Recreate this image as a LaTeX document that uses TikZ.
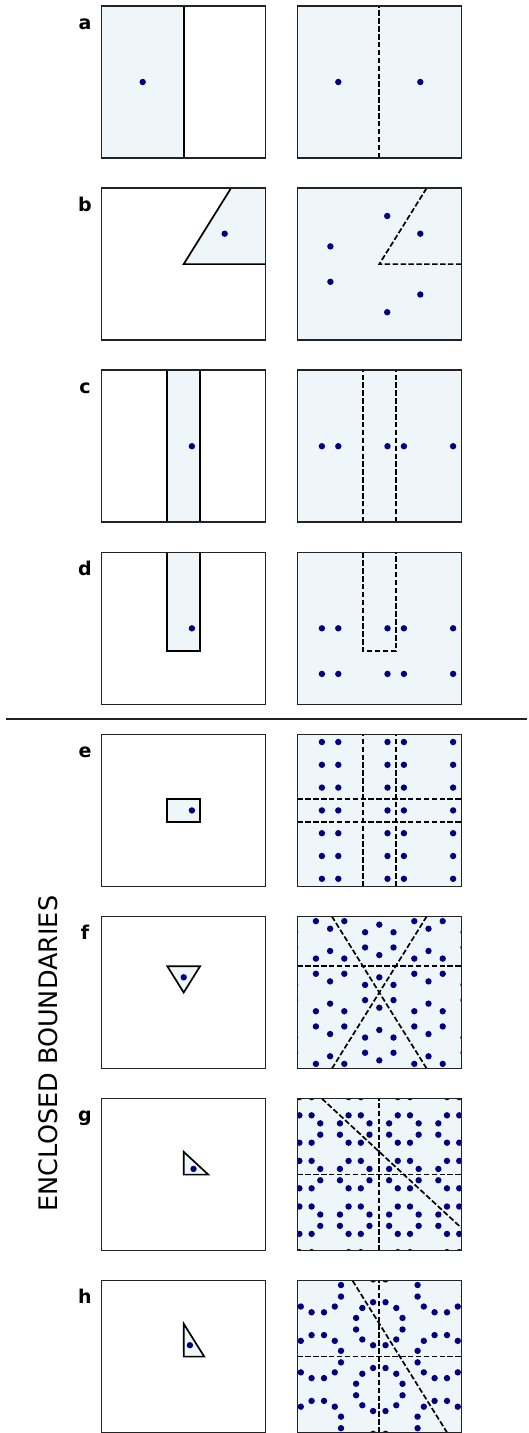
\documentclass[tikz,border=0pt]{standalone}
\usepackage{fontspec}
\setmainfont{DejaVu Sans}
\definecolor{lightfill}{RGB}{238,246,250}
\definecolor{dotc}{RGB}{0,0,128}
\definecolor{framec}{RGB}{35,35,35}
\tikzset{
  edge/.style={line width=1.7pt, black, line join=miter},
  mirror/.style={line width=1.7pt, black, dash pattern=on 5.5pt off 2.4pt},
  frame/.style={line width=1.5pt, draw=framec},
  lbl/.style={font=\bfseries\fontsize{19}{21}\selectfont, inner sep=0pt, anchor=base},
  dotfill/.style={fill=dotc}
}
\newcommand{\pdot}[1]{\fill[dotfill] #1 circle[radius=3.2pt];}
\newcommand{\pframe}{\draw[frame] (-1,-1) rectangle (1,1);}
\newcommand{\pbg}{\fill[lightfill] (-1,-1) rectangle (1,1);}
\begin{document}
\begin{tikzpicture}[x=1pt,y=-1pt]
\useasboundingbox[fill=white] (0,0) rectangle (528,1433);

% labels
\node[lbl] (la) at (85,29) {a};
\node[lbl] (lb) at (85,211.1) {b};
\node[lbl] (lc) at (85,393.2) {c};
\node[lbl] (ld) at (85,575.3) {d};
\node[lbl] (le) at (85,757.4) {e};
\node[lbl] (lf) at (85,939.5) {f};
\node[lbl] (lg) at (85,1121.6) {g};
\node[lbl] (lh) at (85,1303.7) {h};
\node[rotate=90, inner sep=0pt, font=\fontsize{25.5}{30}\selectfont] (title) at (48,1053.5) {ENCLOSED BOUNDARIES};

% separator
\coordinate (sepL) at (6,719);
\coordinate (sepR) at (527,719);
\draw[line width=1.5pt, framec] (sepL) -- (sepR);

% ---------- row a ----------
\begin{scope}[shift={(183.7,82)}, x=82pt, y=76pt]
  \fill[lightfill] (-1,-1) rectangle (0,1);
  \draw[edge] (0,-1) -- (0,1);
  \pdot{(-0.5,0)}
  \pframe
\end{scope}
\begin{scope}[shift={(379.3,82)}, x=82pt, y=76pt]
  \pbg
  \draw[mirror] (0,-1) -- (0,1);
  \pdot{(-0.5,0)} \pdot{(0.5,0)}
  \pframe
\end{scope}

% ---------- row b ----------
\begin{scope}[shift={(183.7,264.1)}, x=82pt, y=76pt]
  \fill[lightfill] (0,0) -- (1,0) -- (1,1) -- (0.5774,1) -- cycle;
  \draw[edge] (1,0) -- (0,0) -- (0.5774,1);
  \pdot{(0.5,0.4)}
  \pframe
\end{scope}
\begin{scope}[shift={(379.3,264.1)}, x=82pt, y=76pt]
  \pbg
  \draw[mirror] (1,0) -- (0,0) -- (0.5774,1);
  \foreach \k in {0,1,2}{
    \pdot{({0.6403*cos(38.66+120*\k)},{0.6403*sin(38.66+120*\k)})}
    \pdot{({0.6403*cos(81.34+120*\k)},{0.6403*sin(81.34+120*\k)})}
  }
  \pframe
\end{scope}

% ---------- row c ----------
\begin{scope}[shift={(183.7,446.2)}, x=82pt, y=76pt]
  \fill[lightfill] (-0.2,-1) rectangle (0.2,1);
  \draw[edge] (-0.2,-1) -- (-0.2,1);
  \draw[edge] (0.2,-1) -- (0.2,1);
  \pdot{(0.1,0)}
  \pframe
\end{scope}
\begin{scope}[shift={(379.3,446.2)}, x=82pt, y=76pt]
  \pbg
  \draw[mirror] (-0.2,-1) -- (-0.2,1);
  \draw[mirror] (0.2,-1) -- (0.2,1);
  \foreach \xx in {-0.7,-0.5,0.1,0.3,0.9}{\pdot{(\xx,0)}}
  \pframe
\end{scope}

% ---------- row d ----------
\begin{scope}[shift={(183.7,628.3)}, x=82pt, y=76pt]
  \fill[lightfill] (-0.2,-0.3) rectangle (0.2,1);
  \draw[edge] (-0.2,1) -- (-0.2,-0.3) -- (0.2,-0.3) -- (0.2,1);
  \pdot{(0.1,0)}
  \pframe
\end{scope}
\begin{scope}[shift={(379.3,628.3)}, x=82pt, y=76pt]
  \pbg
  \draw[mirror] (-0.2,1) -- (-0.2,-0.3) -- (0.2,-0.3) -- (0.2,1);
  \foreach \xx in {-0.7,-0.5,0.1,0.3,0.9}{\pdot{(\xx,0)} \pdot{(\xx,-0.6)}}
  \pframe
\end{scope}

% ---------- row e ----------
\begin{scope}[shift={(183.7,810.4)}, x=82pt, y=76pt]
  \filldraw[edge, fill=lightfill] (-0.2,-0.15) rectangle (0.2,0.15);
  \pdot{(0.1,0)}
  \pframe
\end{scope}
\begin{scope}[shift={(379.3,810.4)}, x=82pt, y=76pt]
  \pbg
  \draw[mirror] (-0.2,-1) -- (-0.2,1);
  \draw[mirror] (0.2,-1) -- (0.2,1);
  \draw[mirror] (-1,0.15) -- (1,0.15);
  \draw[mirror] (-1,-0.15) -- (1,-0.15);
  \foreach \xx in {-0.7,-0.5,0.1,0.3,0.9}{
    \foreach \yy in {-0.9,-0.6,-0.3,0,0.3,0.6,0.9}{\pdot{(\xx,\yy)}}}
  \pframe
\end{scope}

% ---------- row f ----------
\begin{scope}[shift={(183.7,992.5)}, x=82pt, y=76pt]
  \filldraw[edge, fill=lightfill] (0,0) -- (0.2,0.3464) -- (-0.2,0.3464) -- cycle;
  \pdot{(0,0.2)}
  \pframe
\end{scope}
\begin{scope}[shift={(379.3,992.5)}, x=82pt, y=76pt]
  \pbg
  \draw[mirror] (-1,0.3464) -- (1,0.3464);
  \draw[mirror] (-0.5774,-1) -- (0.5774,1);
  \draw[mirror] (0.5774,-1) -- (-0.5774,1);
  \begin{scope}
    \clip (-1,-1) rectangle (1,1);
    \foreach \i in {-2,...,2}{\foreach \j in {-4,...,4}{\foreach \k in {0,...,5}{
      \pdot{({0.6*\i+0.2*cos(30+60*\k)},{0.3464*\i+0.6928*\j+0.2*sin(30+60*\k)})}
    }}}
  \end{scope}
  \pframe
\end{scope}

% ---------- row g ----------
\begin{scope}[shift={(183.7,1174.6)}, x=82pt, y=76pt]
  \filldraw[edge, fill=lightfill] (0,0) -- (0.3,0) -- (0,0.3) -- cycle;
  \pdot{(0.1198,0.0746)}
  \pframe
\end{scope}
\begin{scope}[shift={(379.3,1174.6)}, x=82pt, y=76pt]
  \pbg
  \draw[mirror] (0,-1) -- (0,1);
  \draw[mirror] (-1,0) -- (1,0);
  \draw[mirror] (-0.7,1) -- (1,-0.7);
  \begin{scope}
    \clip (-1,-1) rectangle (1,1);
    \foreach \i in {-3,...,2}{\foreach \j in {-2,...,2}{\foreach \k in {0,...,7}{
      \pdot{({0.3+0.6*\i+0.195*cos(22.5+45*\k)},{0.6*\j+0.195*sin(22.5+45*\k)})}
    }}}
  \end{scope}
  \pframe
\end{scope}

% ---------- row h ----------
\begin{scope}[shift={(183.7,1356.6)}, x=82pt, y=76pt]
  \filldraw[edge, fill=lightfill] (0,0) -- (0.25,0) -- (0,0.433) -- cycle;
  \pdot{(0.0758,0.150)}
  \pframe
\end{scope}
\begin{scope}[shift={(379.3,1356.6)}, x=82pt, y=76pt]
  \pbg
  \draw[mirror] (0,-1) -- (0,1);
  \draw[mirror] (-1,0) -- (1,0);
  \draw[mirror] (-0.327,1) -- (0.827,-1);
  \begin{scope}
    \clip (-1,-1) rectangle (1,1);
    \foreach \i in {-2,...,2}{\foreach \j in {-4,...,3}{\foreach \k in {0,...,11}{
      \pdot{({0.75*\i+0.293*cos(15+30*\k)},{0.433+0.433*\i+0.866*\j+0.293*sin(15+30*\k)})}
    }}}
  \end{scope}
  \pframe
\end{scope}

\end{tikzpicture}
\end{document}
